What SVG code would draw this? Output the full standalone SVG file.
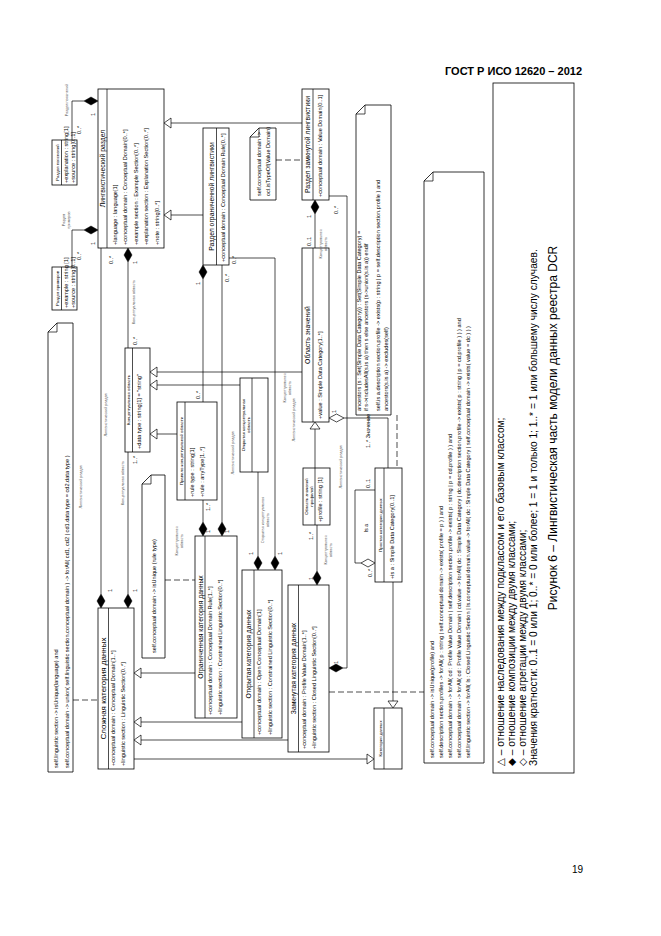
<svg xmlns="http://www.w3.org/2000/svg" width="661" height="936" viewBox="0 0 661 936">
<style>
text{font-family:"Liberation Sans",Arial,"DejaVu Sans",sans-serif;fill:#000}
.box{fill:#fff;stroke:#000;stroke-width:0.8}
.ln{fill:none;stroke:#000;stroke-width:0.7}
.dash{fill:none;stroke:#000;stroke-width:0.7;stroke-dasharray:6 3}
.tri{fill:#fff;stroke:#000;stroke-width:0.7}
.dia{fill:#000;stroke:#000;stroke-width:0.5}
.hdia{fill:#fff;stroke:#000;stroke-width:0.7}
.t{font-size:6.8px}
.tb{font-size:8px}
.a{font-size:5.6px}
.s{font-size:4.3px}
.r{font-size:3.8px;fill:#555}
.m{font-size:5.5px}
.n{font-size:5.6px}
.lg{font-size:10.2px}
.cap{font-size:12px}
</style>
<rect width="661" height="936" fill="#fff"/>
<text x="582" y="74.5" text-anchor="end" font-weight="bold" font-size="11">ГОСТ Р ИСО 12620 – 2012</text>
<text x="583" y="873" text-anchor="end" font-size="10">19</text>

<g id="n-ling">
<rect class="box" x="98" y="89" width="66" height="159"/>
<line class="ln" x1="107" y1="89" x2="107" y2="248"/>
<text class="t" transform="rotate(-90 105 168.5)" x="105" y="168.5" text-anchor="middle">Лингвистический раздел</text>
<text class="a" transform="rotate(-90 116.5 245)" x="116.5" y="245">+language : language[1]</text>
<text class="a" transform="rotate(-90 127 245)" x="127" y="245">+conceptual domain : Conceptual Domain[0..*]</text>
<text class="a" transform="rotate(-90 137.5 245)" x="137.5" y="245">+example section : Example Section[0..*]</text>
<text class="a" transform="rotate(-90 148 245)" x="148" y="245">+explanation section : Explanation Section[0..*]</text>
<text class="a" transform="rotate(-90 158.5 245)" x="158.5" y="245">+note : string[0..*]</text>
</g>

<g id="n-expl">
<rect class="box" x="52" y="140" width="25" height="45"/>
<line class="ln" x1="61.5" y1="140" x2="61.5" y2="185"/>
<text class="s" transform="rotate(-90 59 162.5)" x="59" y="162.5" text-anchor="middle">Раздел пояснений</text>
<text class="a" font-size="5" transform="rotate(-90 68 183)" x="68" y="183">+explanation : string[1]</text>
<text class="a" font-size="5" transform="rotate(-90 75 183)" x="75" y="183">+source : string[0..1]</text>
</g>

<g id="n-exam">
<rect class="box" x="52" y="267" width="25" height="43"/>
<line class="ln" x1="61.5" y1="267" x2="61.5" y2="310"/>
<text class="s" transform="rotate(-90 59 288.5)" x="59" y="288.5" text-anchor="middle">Раздел примеров</text>
<text class="a" font-size="5" transform="rotate(-90 68 308)" x="68" y="308">+example : string [1]</text>
<text class="a" font-size="5" transform="rotate(-90 75 308)" x="75" y="308">+source : string[0..1]</text>
</g>

<g id="n-restr-ling">
<rect class="box" x="203" y="128" width="26" height="137"/>
<line class="ln" x1="216.5" y1="128" x2="216.5" y2="265"/>
<text class="t" transform="rotate(-90 213.5 196.5)" x="213.5" y="196.5" text-anchor="middle">Раздел ограниченной лингвистики</text>
<text class="a" transform="rotate(-90 224.5 262)" x="224.5" y="262">+conceptual domain : Conceptual Domain Rule[0..*]</text>
</g>

<g id="n-note-type">
<polygon class="box" points="250,137 259,128 276,128 276,200 250,200"/>
<polyline class="ln" points="250,137 259,137 259,128"/>
<text class="n" transform="rotate(-90 261 196)" x="261" y="196">self.conceptual domain -&gt;</text>
<text class="n" transform="rotate(-90 270 196)" x="270" y="196">ocl.isTypeOf(Value Domain)</text>
</g>

<g id="n-closed-ling">
<rect class="box" x="302" y="89" width="27" height="111"/>
<line class="ln" x1="313" y1="89" x2="313" y2="200"/>
<text class="t" transform="rotate(-90 310 144.5)" x="310" y="144.5" text-anchor="middle">Раздел замкнутой лингвистики</text>
<text class="a" transform="rotate(-90 322 197)" x="322" y="197">+conceptual domain : Value Domain[0..1]</text>
</g>

<g id="n-note-anc">
<polygon class="box" points="356,114 365,105 391,105 391,415 356,415"/>
<polyline class="ln" points="356,114 365,114 365,105"/>
<text class="n" transform="rotate(-90 361 411)" x="361" y="411">ancestors (s : Set(Simple Data Category)) : Set(Simple Data Category) =</text>
<text class="n" transform="rotate(-90 368 411)" x="368" y="411">    if s-&gt;includesAll(s.is a) then s else ancestors (s-&gt;union(s.is a)) endif</text>
<text class="n" transform="rotate(-90 380 411)" x="380" y="411">self.is a.description section.profile -&gt; exists(p : string | p = self.description section.profile ) and</text>
<text class="n" transform="rotate(-90 387.5 411)" x="387.5" y="411">ancestors(s.is a) -&gt; excludes(self)</text>
</g>

<g id="n-vd">
<rect class="box" x="302" y="248" width="27" height="174"/>
<line class="ln" x1="313" y1="248" x2="313" y2="422"/>
<text class="t" transform="rotate(-90 310 335)" x="310" y="335" text-anchor="middle">Область значений</text>
<text class="a" transform="rotate(-90 322 419)" x="322" y="419">+value : Simple Data Category[1..*]</text>
</g>

<g id="n-pvd">
<rect class="box" x="303" y="468" width="27" height="57"/>
<line class="ln" x1="315" y1="468" x2="315" y2="525"/>
<text class="s" transform="rotate(-90 308 496.5)" x="308" y="496.5" text-anchor="middle">Область значений</text>
<text class="s" transform="rotate(-90 313 496.5)" x="313" y="496.5" text-anchor="middle">профилей</text>
<text class="a" font-size="5" transform="rotate(-90 322 522)" x="322" y="522">+profile : string [1]</text>
</g>

<g id="n-simple">
<rect class="box" x="375" y="468" width="27" height="114"/>
<line class="ln" x1="384" y1="468" x2="384" y2="582"/>
<text class="s" transform="rotate(-90 381.5 525)" x="381.5" y="525" text-anchor="middle">Простая категория данных</text>
<text class="a" transform="rotate(-90 393.5 579)" x="393.5" y="579">+is a : Simple Data Category[0..1]</text>
</g>

<g id="n-dc">
<rect class="box" x="374" y="708" width="28" height="61"/>
<line class="ln" x1="384" y1="708" x2="384" y2="769"/>
<text class="s" transform="rotate(-90 381.5 738.5)" x="381.5" y="738.5" text-anchor="middle">Категория данных</text>
</g>

<g id="n-complex">
<rect class="box" x="98" y="608" width="36" height="161"/>
<line class="ln" x1="108.5" y1="608" x2="108.5" y2="769"/>
<text class="tb" transform="rotate(-90 106 688.5)" x="106" y="688.5" text-anchor="middle">Сложная категория данных</text>
<text class="a" font-size="6" transform="rotate(-90 115 766)" x="115" y="766">+conceptual domain : Conceptual Domain[1..*]</text>
<text class="a" font-size="6" transform="rotate(-90 125 766)" x="125" y="766">+linguistic section : Linguistic Section[0..*]</text>
</g>

<g id="n-note-ling">
<polygon class="box" points="48,332 57,323 73,323 73,772 48,772"/>
<polyline class="ln" points="48,332 57,332 57,323"/>
<text class="n" font-size="6" transform="rotate(-90 58 768)" x="58" y="768">self.linguistic section -&gt; isUnique(language) and</text>
<text class="n" transform="rotate(-90 69 768)" x="69" y="768">self.conceptual domain -&gt; union( self.linguistic section.conceptual domain ) -&gt; forAll( cd1, cd2 | cd1.data type = cd2.data type )</text>
</g>

<g id="n-cd">
<rect class="box" x="125" y="348" width="25" height="104"/>
<line class="ln" x1="132.5" y1="348" x2="132.5" y2="452"/>
<text class="s" transform="rotate(-90 130 400)" x="130" y="400" text-anchor="middle">Концептуальная область</text>
<text class="a" font-size="6" transform="rotate(-90 141 449)" x="141" y="449">+data type : string[1] = "string"</text>
</g>

<g id="n-rule">
<rect class="box" x="177" y="402" width="40" height="98"/>
<line class="ln" x1="185" y1="402" x2="185" y2="500"/>
<text class="s" transform="rotate(-90 182.5 451)" x="182.5" y="451" text-anchor="middle">Правило концептуальной области</text>
<text class="a" font-size="6.3" transform="rotate(-90 194 497)" x="194" y="497">+rule type : string[1]</text>
<text class="a" font-size="6.3" transform="rotate(-90 204 497)" x="204" y="497">+rule : anyType[1..*]</text>
</g>

<g id="n-restr">
<rect class="box" x="195" y="536" width="42" height="182"/>
<line class="ln" x1="205" y1="536" x2="205" y2="718"/>
<text class="t" font-size="7.3" transform="rotate(-90 203 627)" x="203" y="627" text-anchor="middle">Ограниченная категория данных</text>
<text class="a" font-size="6" transform="rotate(-90 212 715)" x="212" y="715">+conceptual domain : Conceptual Domain Rule[1..*]</text>
<text class="a" font-size="6" transform="rotate(-90 221.5 715)" x="221.5" y="715">+linguistic section : Constrained Linguistic Section[0..*]</text>
</g>

<g id="n-open-cd">
<rect class="box" x="240" y="378" width="28" height="94"/>
<line class="ln" x1="252" y1="378" x2="252" y2="472"/>
<text class="s" transform="rotate(-90 245 425)" x="245" y="425" text-anchor="middle">Открытая концептуальная</text>
<text class="s" transform="rotate(-90 250 425)" x="250" y="425" text-anchor="middle">область</text>
</g>

<g id="n-open">
<rect class="box" x="242" y="570" width="40" height="168"/>
<line class="ln" x1="254" y1="570" x2="254" y2="738"/>
<text class="t" font-size="7.3" transform="rotate(-90 251 654)" x="251" y="654" text-anchor="middle">Открытая категория данных</text>
<text class="a" font-size="6" transform="rotate(-90 260.5 735)" x="260.5" y="735">+conceptual domain : Open Conceptual Domain[1]</text>
<text class="a" font-size="6" transform="rotate(-90 272 735)" x="272" y="735">+linguistic section : Constrained Linguistic Section[0..*]</text>
</g>

<g id="n-closed">
<rect class="box" x="288" y="585" width="41" height="167"/>
<line class="ln" x1="298.5" y1="585" x2="298.5" y2="752"/>
<text class="t" font-size="7.3" transform="rotate(-90 296 668.5)" x="296" y="668.5" text-anchor="middle">Замкнутая категория данных</text>
<text class="a" font-size="6" transform="rotate(-90 305.5 749)" x="305.5" y="749">+conceptual domain : Profile Value Domain[1..*]</text>
<text class="a" font-size="6" transform="rotate(-90 315.5 749)" x="315.5" y="749">+linguistic section : Closed Linguistic Section[0..*]</text>
</g>

<g id="n-note-rule">
<polygon class="box" points="142,484 151,475 165,475 165,658 142,658"/>
<polyline class="ln" points="142,484 151,484 151,475"/>
<text class="n" font-size="6.5" transform="rotate(-90 156 653)" x="156" y="653">self.conceptual domain -&gt; isUnique (rule type)</text>
</g>

<g id="n-note-prof">
<polygon class="box" points="424,181 433,172 484,172 484,763 424,763"/>
<polyline class="ln" points="424,181 433,181 433,172"/>
<text class="n" transform="rotate(-90 434 758)" x="434" y="758">self.conceptual domain -&gt; isUnique(profile) and</text>
<text class="n" transform="rotate(-90 443 758)" x="443" y="758">self.description section.profiles -&gt; forAll( p : string | self.conceptual domain -&gt; exists( profile = p ) ) and</text>
<text class="n" transform="rotate(-90 452 758)" x="452" y="758">self.conceptual domain -&gt; forAll( cd : Profile Value Domain | self.description section.profile -&gt; exists( p : string | p = cd.profile ) ) and</text>
<text class="n" transform="rotate(-90 461 758)" x="461" y="758">self.conceptual domain -&gt; forAll( cd : Profile Value Domain | cd.value -&gt; forAll( dc : Simple Data Category | dc.description section.profile -&gt; exists( p : string | p = cd.profile ) ) )  and</text>
<text class="n" transform="rotate(-90 470 758)" x="470" y="758">self.linguistic section -&gt; forAll( ls : Closed Linguistic Section | ls.conceptual domain.value -&gt; forAll( dc : Simple Data Category | self.conceptual domain -&gt; exists( value = dc ) ) )</text>
</g>

<g id="legend">
<rect class="box" x="493" y="83" width="81" height="690"/>
<text class="lg" transform="rotate(-90 504 766)" x="504" y="766">△ – отношение наследования между подклассом и его базовым классом;</text>
<text class="lg" transform="rotate(-90 515 766)" x="515" y="766">◆ – отношение композиции между двумя классами;</text>
<text class="lg" transform="rotate(-90 526 766)" x="526" y="766">◇ – отношение агрегации между двумя классами;</text>
<text class="lg" transform="rotate(-90 537 766)" x="537" y="766">Значения кратности: 0..1 = 0 или 1; 0..* = 0 или более; 1 = 1 и только 1; 1..* = 1 или большему числу случаев.</text>
<text class="cap" transform="rotate(-90 557 428)" x="557" y="428" text-anchor="middle">Рисунок 6 – Лингвистическая часть модели данных реестра DCR</text>
</g>

<g id="connectors">
<polyline class="ln" points="302,123 171,123"/><polygon class="tri" points="164,123 171,118 171,128"/>
<polyline class="ln" points="203,215 171,215"/><polygon class="tri" points="164,215 171,210 171,220"/>
<polyline class="ln" points="302,372 157,372"/><polygon class="tri" points="150,372 157,367 157,377"/>
<polyline class="ln" points="240,385 157,385"/><polygon class="tri" points="150,385 157,380 157,390"/>
<polyline class="ln" points="177,434 157,434"/><polygon class="tri" points="150,434 157,429 157,439"/>
<polyline class="ln" points="315,468 315,429"/><polygon class="tri" points="315,422 310,429 320,429"/>
<polyline class="ln" points="195,673 141,673"/><polygon class="tri" points="134,673 141,668 141,678"/>
<polyline class="ln" points="242,722 141,722"/><polygon class="tri" points="134,722 141,717 141,727"/>
<polyline class="ln" points="288,740 141,740"/><polygon class="tri" points="134,740 141,735 141,745"/>
<polyline class="ln" points="134,759 367,759"/><polygon class="tri" points="374,759 367,754 367,764"/>
<polyline class="ln" points="393,582 393,701"/><polygon class="tri" points="393,708 388,701 398,701"/>
<polyline class="ln" points="84,101 72,101 72,140"/><polygon class="dia" points="98,101 91,97 84,101 91,105"/>
<polyline class="ln" points="84,230 72,230 72,267"/><polygon class="dia" points="98,230 91,226 84,230 91,234"/>
<polyline class="ln" points="128,262 128,348"/><polygon class="dia" points="128,248 132,255 128,262 124,255"/>
<polyline class="ln" points="101,594 101,248"/><polygon class="dia" points="101,608 105,601 101,594 97,601"/>
<polyline class="ln" points="128,594 128,452"/><polygon class="dia" points="128,608 132,601 128,594 124,601"/>
<polyline class="ln" points="315,214 315,248"/><polygon class="dia" points="315,200 319,207 315,214 311,207"/>
<polyline class="ln" points="203,279 203,402"/><polygon class="dia" points="203,265 207,272 203,279 199,272"/>
<polyline class="ln" points="203,522 203,500"/><polygon class="dia" points="203,536 207,529 203,522 199,529"/>
<polyline class="ln" points="222,522 222,265"/><polygon class="dia" points="222,536 226,529 222,522 218,529"/>
<polyline class="ln" points="258,556 258,472"/><polygon class="dia" points="258,570 262,563 258,556 254,563"/>
<polyline class="ln" points="275,556 275,258 229,258"/><polygon class="dia" points="275,570 279,563 275,556 271,563"/>
<polyline class="ln" points="317,571 317,525"/><polygon class="dia" points="317,585 321,578 317,571 313,578"/>
<polyline class="ln" points="343,668 347,668 347,196 329,196"/><polygon class="dia" points="329,668 336,664 343,668 336,672"/>
<polyline class="ln" points="344,418 388,418 388,468"/><polygon class="hdia" points="329,418 336.5,414 344,418 336.5,422"/>
<polyline class="ln" points="361,563 355,563 355,490 375,490"/><polygon class="hdia" points="375,563 368,559 361,563 368,567"/>
<line class="dash" x1="73" y1="700" x2="98" y2="700"/>
<line class="dash" x1="276" y1="160" x2="302" y2="160"/>
<line class="dash" x1="165" y1="580" x2="195" y2="580"/>
<line class="dash" x1="397" y1="415" x2="397" y2="468"/>
<line class="dash" x1="329" y1="692" x2="424" y2="692"/>
<text class="m" transform="rotate(-90 95 116)" x="95" y="116">1</text>
<text class="m" transform="rotate(-90 81 134)" x="81" y="134">0..*</text>
<text class="m" transform="rotate(-90 95 245)" x="95" y="245">1</text>
<text class="m" transform="rotate(-90 81 260)" x="81" y="260">0..*</text>
<text class="m" transform="rotate(-90 113 264)" x="113" y="264">0..*</text>
<text class="m" transform="rotate(-90 137 264)" x="137" y="264">1</text>
<text class="m" transform="rotate(-90 137 345)" x="137" y="345">0..*</text>
<text class="m" transform="rotate(-90 137 464)" x="137" y="464">1..*</text>
<text class="m" transform="rotate(-90 112 592)" x="112" y="592">1</text>
<text class="m" transform="rotate(-90 137 592)" x="137" y="592">1</text>
<text class="m" transform="rotate(-90 200 285)" x="200" y="285">1</text>
<text class="m" transform="rotate(-90 200 399)" x="200" y="399">0..*</text>
<text class="m" transform="rotate(-90 236 264)" x="236" y="264">0..*</text>
<text class="m" transform="rotate(-90 229 282)" x="229" y="282">0..*</text>
<text class="m" transform="rotate(-90 210 511)" x="210" y="511">1..*</text>
<text class="m" transform="rotate(-90 210 533)" x="210" y="533">1</text>
<text class="m" transform="rotate(-90 229 533)" x="229" y="533">1</text>
<text class="m" transform="rotate(-90 253 555)" x="253" y="555">1</text>
<text class="m" transform="rotate(-90 282 555)" x="282" y="555">1</text>
<text class="m" transform="rotate(-90 313 580)" x="313" y="580">1</text>
<text class="m" transform="rotate(-90 313 540)" x="313" y="540">1..*</text>
<text class="m" transform="rotate(-90 338 664)" x="338" y="664">1</text>
<text class="m" transform="rotate(-90 338 214)" x="338" y="214">0..*</text>
<text class="m" transform="rotate(-90 311 218)" x="311" y="218">1</text>
<text class="m" transform="rotate(-90 311 246)" x="311" y="246">0..1</text>
<text class="m" transform="rotate(-90 336 413)" x="336" y="413">1</text>
<text class="m" transform="rotate(-90 370 448)" x="370" y="448">1..* Значение</text>
<text class="m" transform="rotate(-90 370 488)" x="370" y="488">0..1</text>
<text class="m" transform="rotate(-90 368 528)" x="368" y="528" text-anchor="middle">Is a</text>
<text class="m" transform="rotate(-90 372 577)" x="372" y="577">0..*</text>
<text class="r" transform="rotate(-90 68 100)" x="68" y="100" text-anchor="middle">Раздел пояснений</text>
<text class="r" transform="rotate(-90 65 220)" x="65" y="220" text-anchor="middle">Раздел</text>
<text class="r" transform="rotate(-90 70 220)" x="70" y="220" text-anchor="middle">примеров</text>
<text class="r" transform="rotate(-90 135 302)" x="135" y="302" text-anchor="middle">Концептуальная область</text>
<text class="r" transform="rotate(-90 107 415)" x="107" y="415" text-anchor="middle">Лингвистический раздел</text>
<text class="r" transform="rotate(-90 82 487)" x="82" y="487" text-anchor="middle">Лингвистический раздел</text>
<text class="r" transform="rotate(-90 124 483)" x="124" y="483" text-anchor="middle">Концептуальная область</text>
<text class="r" transform="rotate(-90 178 541)" x="178" y="541" text-anchor="middle">Концептуальная</text>
<text class="r" transform="rotate(-90 183 541)" x="183" y="541" text-anchor="middle">область</text>
<text class="r" transform="rotate(-90 234 453)" x="234" y="453" text-anchor="middle">Лингвистический раздел</text>
<text class="r" transform="rotate(-90 286 388)" x="286" y="388" text-anchor="middle">Концептуальная</text>
<text class="r" transform="rotate(-90 291 388)" x="291" y="388" text-anchor="middle">область</text>
<text class="r" transform="rotate(-90 295 420)" x="295" y="420" text-anchor="middle">Лингвистический раздел</text>
<text class="r" transform="rotate(-90 322 244)" x="322" y="244" text-anchor="middle">Концептуальная</text>
<text class="r" transform="rotate(-90 327 244)" x="327" y="244" text-anchor="middle">область</text>
<text class="r" transform="rotate(-90 342 467)" x="342" y="467" text-anchor="middle">Лингвистический раздел</text>
<text class="r" transform="rotate(-90 327 550)" x="327" y="550" text-anchor="middle">Концептуальная</text>
<text class="r" transform="rotate(-90 332 550)" x="332" y="550" text-anchor="middle">область</text>
<text class="r" transform="rotate(-90 264 520)" x="264" y="520" text-anchor="middle">Открытая концептуальная</text>
<text class="r" transform="rotate(-90 269 520)" x="269" y="520" text-anchor="middle">область</text>
</g>
</svg>
